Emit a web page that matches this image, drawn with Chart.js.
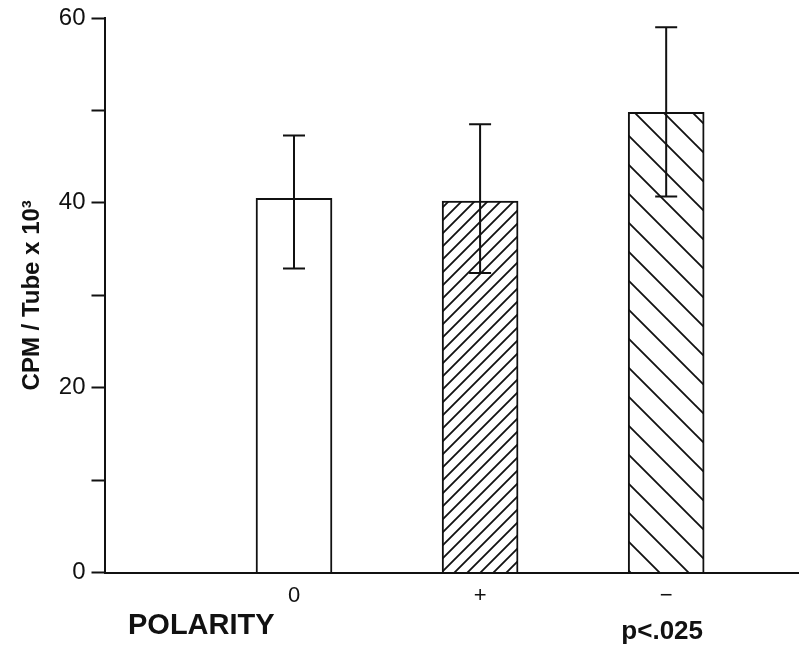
<!DOCTYPE html>
<html>
<head>
<meta charset="utf-8">
<script src="https://cdn.jsdelivr.net/npm/chart.js@4.4.0/dist/chart.umd.min.js"></script>
<style>
  html, body { margin: 0; padding: 0; background: #fff; }
  #wrap { width: 799px; height: 649px; }
</style>
</head>
<body>
<div id="wrap"><canvas id="polarityChart"></canvas></div>
<script>
// data
const categories = ['0', '+', '\u2212'];
const means = [40.5, 40.2, 49.8];
const errLow = [32.9, 32.4, 40.7];
const errHigh = [47.3, 48.5, 59.0];
const axisLabel = 'POLARITY';
const note = 'p<.025';

function hatch(size, back) {
    const c = document.createElement('canvas');
    c.width = size;
    c.height = size;
    const g = c.getContext('2d');
    g.fillStyle = '#fff';
    g.fillRect(0, 0, size, size);
    g.strokeStyle = '#111';
    g.lineWidth = 1.8;
    g.beginPath();
    if (back) {
        g.moveTo(-1, -1); g.lineTo(size + 1, size + 1);
        g.moveTo(-2, size - 2); g.lineTo(2, size + 2);
        g.moveTo(size - 2, -2); g.lineTo(size + 2, 2);
    } else {
        g.moveTo(-1, size + 1); g.lineTo(size + 1, -1);
        g.moveTo(-2, 2); g.lineTo(2, -2);
        g.moveTo(size - 2, size + 2); g.lineTo(size + 2, size - 2);
    }
    g.stroke();
    return g.createPattern(c, 'repeat');
}

// error bars and the loose texts under the axis
const extras = {
    id: 'extras',
    afterDatasetsDraw(chart) {
        const { ctx, scales: { x, y } } = chart;
        ctx.save();
        ctx.strokeStyle = '#111';
        ctx.lineWidth = 2;
        // axis line runs on to the right edge of the figure
        const ay = Math.round(x.top);
        ctx.beginPath();
        ctx.moveTo(x.right - 2, ay);
        ctx.lineTo(chart.width, ay);
        ctx.stroke();
        means.forEach((m, i) => {
            const px = x.getPixelForValue(i + 1);
            const top = y.getPixelForValue(errHigh[i]);
            const bot = y.getPixelForValue(errLow[i]);
            ctx.beginPath();
            ctx.moveTo(px, top); ctx.lineTo(px, bot);
            ctx.moveTo(px - 11, top); ctx.lineTo(px + 11, top);
            ctx.moveTo(px - 11, bot); ctx.lineTo(px + 11, bot);
            ctx.stroke();
        });
        ctx.fillStyle = '#111';
        ctx.textBaseline = 'middle';
        ctx.textAlign = 'left';
        ctx.font = 'bold 29px "Liberation Sans", Arial, sans-serif';
        ctx.fillText(axisLabel, 128, 626);
        ctx.textAlign = 'center';
        ctx.font = 'bold 26px "Liberation Sans", Arial, sans-serif';
        ctx.fillText(note, x.getPixelForValue(3) - 4, 632);
        ctx.restore();
    }
};

const ctx = document.getElementById('polarityChart').getContext('2d');
new Chart(ctx, {
    type: 'bar',
    data: {
        datasets: [{
            data: means.map((v, i) => ({ x: i + 1, y: v })),
            backgroundColor: ['#fff', hatch(13, false), hatch(29, true)],
            borderColor: '#111',
            borderWidth: 2,
            borderSkipped: 'bottom',
            barThickness: 76
        }]
    },
    options: {
        responsive: true,
        maintainAspectRatio: false,
        animation: false,
        layout: { padding: { left: 18, right: 0, top: 0, bottom: 30 } },
        plugins: {
            legend: { display: false },
            tooltip: { enabled: false }
        },
        scales: {
            x: {
                type: 'linear',
                offset: false,
                min: -0.013,
                max: 3.66,
                grid: { display: false, drawTicks: false, offset: false },
                border: { display: true, color: '#111', width: 2 },
                ticks: {
                    stepSize: 1,
                    padding: 10,
                    color: '#111',
                    font: { size: 22, family: '"Liberation Sans", Arial, sans-serif' },
                    callback: v => {
                        const k = Math.round(v);
                        return (Math.abs(v - k) < 1e-6 && k >= 1 && k <= 3) ? categories[k - 1] : '';
                    }
                }
            },
            y: {
                min: 0,
                max: 60,
                grid: {
                    drawOnChartArea: false,
                    drawTicks: true,
                    tickLength: 14,
                    tickColor: '#111',
                    tickWidth: 2
                },
                border: { display: true, color: '#111', width: 2 },
                ticks: {
                    stepSize: 10,
                    padding: 6,
                    color: '#111',
                    font: { size: 24, lineHeight: 1, family: '"Liberation Sans", Arial, sans-serif' },
                    callback: v => v % 20 === 0 ? v : ''
                },
                title: {
                    display: true,
                    text: 'CPM / Tube x 10\u00b3',
                    color: '#111',
                    font: { size: 24, weight: 'bold', family: '"Liberation Sans", Arial, sans-serif' },
                    padding: { top: 0, bottom: 6 }
                }
            }
        }
    },
    plugins: [extras]
});
</script>
</body>
</html>
